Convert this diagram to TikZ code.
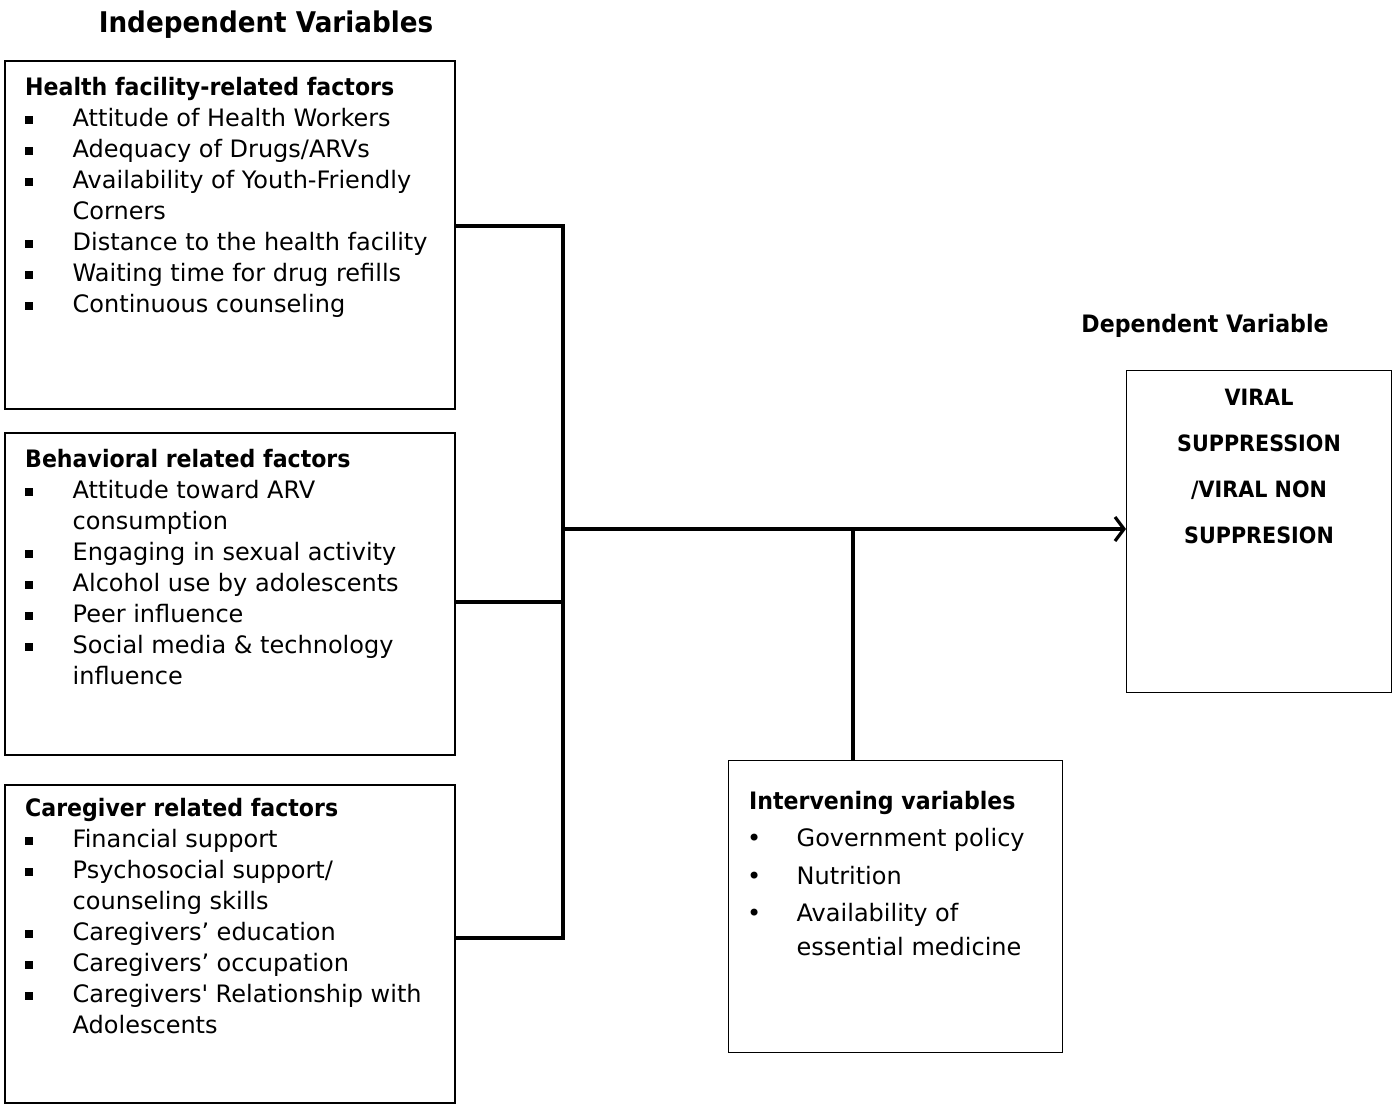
\documentclass[tikz,border=0pt]{standalone}
\usepackage{fontspec}
\defaultfontfeatures[\rmfamily]{}
\setmainfont{DejaVu Sans}[BoldFeatures={FakeStretch=0.92}]
\usetikzlibrary{arrows.meta}
\newcommand{\sqb}{\makebox[47.5pt][l]{\rule[2.5pt]{7.5pt}{7.5pt}}}
\newcommand{\rdb}{\makebox[47.5pt][l]{\hspace{-2pt}•}}
\newcommand{\itm}[1]{\hbox{\sqb #1}}
\newcommand{\ritm}[1]{\hbox{\rdb #1}}
\newcommand{\cont}[1]{\hbox{\hspace{47.5pt}#1}}
\newcommand{\ttl}[1]{\hbox{\bfseries #1}}
\newcommand{\ctrline}[1]{\hbox to 240pt{\hfil #1\hfil}}
\begin{document}
\begin{tikzpicture}[x=1pt,y=-1pt,
  box/.style={draw, line width=1.6pt, inner sep=0, anchor=north west},
  conn/.style={line width=3.2pt},
  txt/.style={anchor=base west, inner sep=0, font=\fontsize{24}{31}\selectfont},
  hd/.style={anchor=base, inner sep=0, font=\fontsize{24}{31}\selectfont\bfseries}]
\useasboundingbox (0,0) rectangle (1392,1104);
% boxes
\node[box, minimum width=450pt, minimum height=348pt] (hf) at (4,60) {};
\node[box, minimum width=450pt, minimum height=322pt] (bh) at (4,432) {};
\node[box, minimum width=450pt, minimum height=318pt] (cg) at (4,784) {};
\node[box, line width=1.2pt, minimum width=265pt, minimum height=322pt] (dep) at (1126,370) {};
\node[box, line width=1.2pt, minimum width=334pt, minimum height=292pt] (iv) at (728,760) {};
% headings
\node[hd, font=\fontsize{28.5}{34}\selectfont\bfseries] (indep) at (266,32) {Independent Variables};
\node[hd] (deph) at (1205,332) {Dependent Variable};
% texts
\node[txt] (thf) at (25,95) {\vtop{\baselineskip=31pt
  \ttl{Health facility-related factors}
  \itm{Attitude of Health Workers}
  \itm{Adequacy of Drugs/ARVs}
  \itm{Availability of Youth-Friendly}
  \cont{Corners}
  \itm{Distance to the health facility}
  \itm{Waiting time for drug refills}
  \itm{Continuous counseling}}};
\node[txt] (tbh) at (25,467) {\vtop{\baselineskip=31pt
  \ttl{Behavioral related factors}
  \itm{Attitude toward ARV}
  \cont{consumption}
  \itm{Engaging in sexual activity}
  \itm{Alcohol use by adolescents}
  \itm{Peer influence}
  \itm{Social media \& technology}
  \cont{influence}}};
\node[txt] (tcg) at (25,816) {\vtop{\baselineskip=31pt
  \ttl{Caregiver related factors}
  \itm{Financial support}
  \itm{Psychosocial support/}
  \cont{counseling skills}
  \itm{Caregivers’ education}
  \itm{Caregivers’ occupation}
  \itm{Caregivers' Relationship with}
  \cont{Adolescents}}};
\node[txt] (tiv) at (749,809) {\vtop{\baselineskip=34pt
  \ttl{Intervening variables}\vskip3pt
  \ritm{Government policy}\vskip4pt
  \ritm{Nutrition}\vskip3pt
  \ritm{Availability of}
  \cont{essential medicine}}};
\node[anchor=base, inner sep=0, font=\fontsize{22.5}{46.3}\selectfont\bfseries] (tdep) at (1259,405)
  {\vtop{\baselineskip=46.3pt
  \ctrline{VIRAL}
  \ctrline{SUPPRESSION}
  \ctrline{/VIRAL NON}
  \ctrline{SUPPRESION}}};
% connectors
\coordinate (j1) at (563,226);
\coordinate (j2) at (563,602);
\coordinate (j3) at (563,938);
\coordinate (jm) at (563,529);
\coordinate (jv) at (853,529);
\draw[conn] (j1 -| hf.east) -- (j1) -- (j3) -- (j3 -| cg.east);
\draw[conn] (j2 -| bh.east) -- (j2);
\draw[conn, -{Straight Barb[length=9pt,width=24pt]}] (jm) -- (jm -| dep.west);
\draw[conn] (jv |- iv.north) -- (jv);
\end{tikzpicture}
\end{document}
